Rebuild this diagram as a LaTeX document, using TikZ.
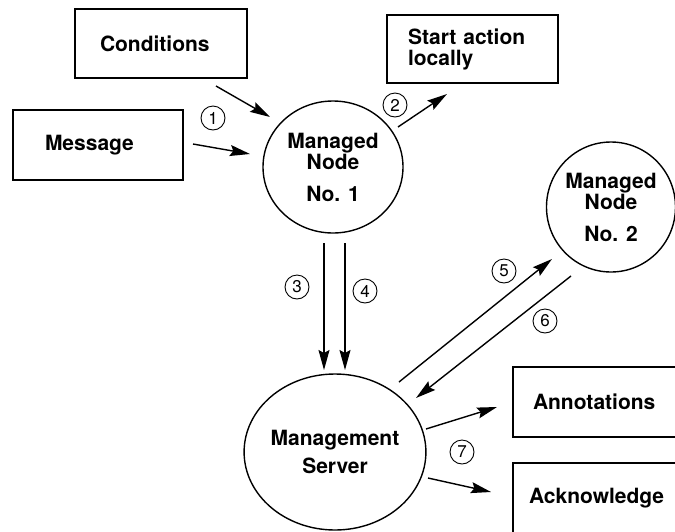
\documentclass[tikz,border=0pt]{standalone}
\usepackage{fontspec}
\setmainfont{TeX Gyre Heros}
\usetikzlibrary{arrows.meta,shapes.geometric}
\tikzset{
	boxnode/.style={draw, line width=1.4pt, align=left, minimum height=69pt, font=\fontsize{21}{21}\selectfont\bfseries},
	roundnode/.style={draw, ellipse, line width=1.4pt, inner sep=0pt, align=center, font=\fontsize{21}{21}\selectfont\bfseries},
	num/.style={draw, circle, line width=0.9pt, minimum size=24pt, inner sep=0pt, font=\fontsize{17}{17}\selectfont},
	arr/.style={line width=1.4pt, -{Stealth[length=20pt,width=11pt,inset=3pt]}}
}
\begin{document}
\begin{tikzpicture}[x=1pt, y=-1pt]
		\useasboundingbox (0,0) rectangle (675,531);
		\clip (0,0) rectangle (675,531);
		\node[boxnode, text width=122pt, inner xsep=25pt] (cond) at (161,43.5) {Conditions};
		\node[boxnode, text width=106pt, inner xsep=32pt, minimum height=70pt] (msg) at (98,145) {Message};
		\node[boxnode, text width=129pt, inner xsep=21pt, minimum height=68pt] (start) at (472.5,49) {Start action\\locally};
		\node[boxnode, text width=140pt, inner xsep=20pt, minimum height=70pt] (annot) at (603,402) {Annotations};
		\node[boxnode, text width=148pt, inner xsep=16pt, minimum height=70pt] (ack) at (603,498) {Acknowledge};
		\node[roundnode, minimum width=140pt, minimum height=132pt] (node1) at (333,167) {Managed\\Node\\[11pt]No. 1};
		\node[roundnode, minimum width=128pt, minimum height=130pt] (node2) at (611,207) {Managed\\Node\\[11pt]No. 2};
		\node[roundnode, minimum width=170pt, minimum height=156pt] (server) at (335,452) {Management\\[7pt]Server};
		\foreach \c/\x/\y in {cs/216/86, ce/270/117, ms/193/144, me/250/154, ss/398/127, se/447/94,
			d3s/324/243, d3e/324/370, d4s/345/243, d4e/345/370, d5s/399/382, d5e/552/259,
			d6s/571/276, d6e/416/398, as/426/429, ae/497/407, ks/428/478, ke/491/492}
			\coordinate (\c) at (\x,\y);
		\foreach \a/\b in {cs/ce, ms/me, ss/se, d3s/d3e, d4s/d4e, d5s/d5e, d6s/d6e, as/ae, ks/ke}
			\draw[arr] (\a) -- (\b);
		\foreach \n/\x/\y in {1/213/118, 2/395/105, 3/297/287, 4/365/291, 5/504/271, 6/545/321, 7/462/452}
			\node[num] (c\n) at (\x,\y) {\n};
	\end{tikzpicture}
\end{document}
